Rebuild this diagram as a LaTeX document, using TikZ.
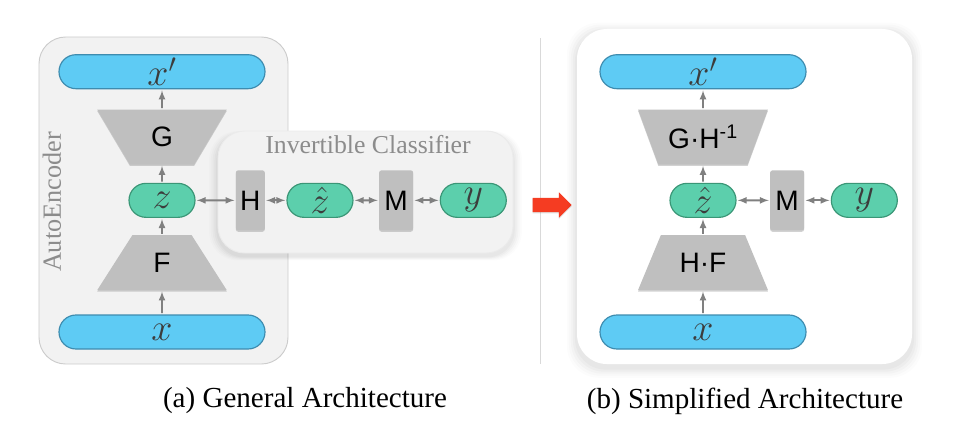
\documentclass[tikz,border=0pt]{standalone}
\usepackage{fontspec}
\setmainfont{Liberation Serif}
\setsansfont{Liberation Sans}
\usepackage{graphicx}
\usepackage{tikz}
\usetikzlibrary{arrows,shapes,positioning,shadows}
\usepackage{xcolor}
\definecolor{aeblue}{RGB}{94,203,244}
\definecolor{aeblueline}{RGB}{62,140,175}
\definecolor{aegreen}{RGB}{92,207,172}
\definecolor{aegreenline}{RGB}{58,150,118}
\definecolor{aegray}{RGB}{191,191,191}
\definecolor{aepanel}{RGB}{242,242,242}
\definecolor{aeborder}{RGB}{204,204,204}
\definecolor{aearrow}{RGB}{128,128,128}
\definecolor{aered}{RGB}{245,60,34}
\definecolor{aetext}{RGB}{60,60,60}
\newcommand{\pillmath}[1]{\scalebox{1.3}{$#1$}}
\tikzstyle{arrow} = [line width=1.6pt,->,>=latex,color=aearrow,shorten >=1pt,shorten <=1pt]
\tikzstyle{biarrow} = [line width=1.6pt,<->,>=latex,color=aearrow,shorten >=1pt,shorten <=1pt]
\tikzstyle{datapill} = [rounded rectangle, minimum width=6.18cm, minimum height=1.02cm, inner sep=0pt, draw=aeblueline, fill=aeblue, line width=1pt, text=aetext, font=\fontsize{24}{28}\selectfont]
\tikzstyle{codepill} = [rounded rectangle, minimum width=1.98cm, minimum height=1.02cm, inner sep=0pt, draw=aegreenline, fill=aegreen, line width=1pt, text=aetext, font=\fontsize{24}{28}\selectfont]
\tikzstyle{netblock} = [trapezium, trapezium angle=61.4, trapezium stretches=true, minimum width=3.9cm, minimum height=1.65cm, fill=aegray, font=\sffamily\fontsize{24}{28}\selectfont, drop shadow={shadow xshift=0pt,shadow yshift=-1.2pt,opacity=0.35}]
\tikzstyle{mapblock} = [rectangle, rounded corners=2pt, minimum width=0.87cm, minimum height=1.8cm, inner sep=0pt, fill=aegray, font=\sffamily\fontsize{24}{28}\selectfont, drop shadow={shadow xshift=0pt,shadow yshift=-1.2pt,opacity=0.35}]
\tikzstyle{panel} = [rectangle, rounded corners=0.8cm, fill=aepanel, draw=aeborder, line width=0.8pt]
\tikzstyle{softshadow} = [general shadow={shadow yshift=-3pt,shadow scale=1.012,opacity=0.025,fill=black}, general shadow={shadow yshift=-3pt,shadow scale=1.024,opacity=0.025,fill=black}, general shadow={shadow yshift=-3pt,shadow scale=1.036,opacity=0.02,fill=black}, general shadow={shadow yshift=-3pt,shadow scale=1.048,opacity=0.015,fill=black}, general shadow={shadow yshift=-3pt,shadow scale=1.06,opacity=0.01,fill=black}]
\tikzstyle{paneltitle} = [text=black!45, font=\fontsize{22}{26}\selectfont]
\tikzstyle{caption} = [font=\fontsize{24.8}{28}\selectfont]

\begin{document}
\begin{tikzpicture}[x=0.03cm, y=-0.03cm]
\useasboundingbox (0,0) rectangle (960,440);
% General architecture
\node (ae_box) [panel, minimum width=7.47cm, minimum height=9.81cm] at (163.5,200.5) {};
\node (ae_label) [paneltitle, font=\fontsize{22.4}{26}\selectfont, rotate=90] at (52,202) {AutoEncoder};
\node (ae_x) [datapill] at (162,332) {\pillmath{x}};
\node (ae_f) [netblock, above=0.72cm of ae_x] {F};
\node (ae_z) [codepill, above=0.51cm of ae_f] {\pillmath{z}};
\node (ae_g) [netblock, shape border rotate=180, above=0.54cm of ae_z] {G};
\node (ae_xr) [datapill, above=0.6cm of ae_g] {\pillmath{x'}};

\draw[arrow] (ae_x) -- (ae_f);
\draw[arrow] (ae_f) -- (ae_z);
\draw[arrow] (ae_z) -- (ae_g);
\draw[arrow] (ae_g) -- (ae_xr);

% Invertible classifier
\node (ic_box) [panel, draw=black!8, minimum width=8.85cm, minimum height=3.66cm, softshadow] at (365.5,192) {};
\node (ic_label) [paneltitle] at (368,145) {Invertible Classifier};
\node (ic_h) [mapblock, right=1.2cm of ae_z] {H};
\node (ic_zhat) [codepill, right=0.64cm of ic_h] {\pillmath{\hat{z}}};
\node (ic_m) [mapblock, minimum width=1.02cm, right=0.76cm of ic_zhat] {M};
\node (ic_y) [codepill, right=0.79cm of ic_m] {\pillmath{y}};

\draw[biarrow] (ae_z) -- (ic_h);
\draw[biarrow] (ic_h) -- (ic_zhat);
\draw[biarrow] (ic_zhat) -- (ic_m);
\draw[biarrow] (ic_m) -- (ic_y);

\node (cap_a) [caption] at (305,401) {(a) General Architecture};

% Divider and step
\coordinate (div_top) at (540,38);
\coordinate (div_bot) at (540,364);
\draw[black!15, line width=0.8pt] (div_top) -- (div_bot);
\node (step_arrow) [single arrow, fill=aered, inner xsep=0pt, inner ysep=0.21cm, minimum height=1.17cm, minimum width=0.75cm, single arrow head extend=0.165cm, drop shadow={shadow xshift=0pt,shadow yshift=-1pt,opacity=0.25}] at (548.5,205) {};

% Simplified architecture
\node (sa_box) [rectangle, rounded corners=0.9cm, fill=white, minimum width=10.05cm, minimum height=10.05cm, softshadow] at (744.5,196.5) {};
\node (sa_x) [datapill] at (703,332) {\pillmath{x}};
\node (sa_hf) [netblock, above=0.72cm of sa_x] {H·F};
\node (sa_zhat) [codepill, above=0.51cm of sa_hf] {\pillmath{\hat{z}}};
\node (sa_gh) [netblock, shape border rotate=180, above=0.54cm of sa_zhat] {G·H\textsuperscript{-1}};
\node (sa_xr) [datapill, above=0.6cm of sa_gh] {\pillmath{x'}};
\node (sa_m) [mapblock, minimum width=1.02cm, right=1.0cm of sa_zhat] {M};
\node (sa_y) [codepill, right=0.79cm of sa_m] {\pillmath{y}};

\draw[arrow] (sa_x) -- (sa_hf);
\draw[arrow] (sa_hf) -- (sa_zhat);
\draw[arrow] (sa_zhat) -- (sa_gh);
\draw[arrow] (sa_gh) -- (sa_xr);
\draw[biarrow] (sa_zhat) -- (sa_m);
\draw[biarrow] (sa_m) -- (sa_y);

\node (cap_b) [caption] at (745,401) {(b) Simplified Architecture};
\end{tikzpicture}
\end{document}
